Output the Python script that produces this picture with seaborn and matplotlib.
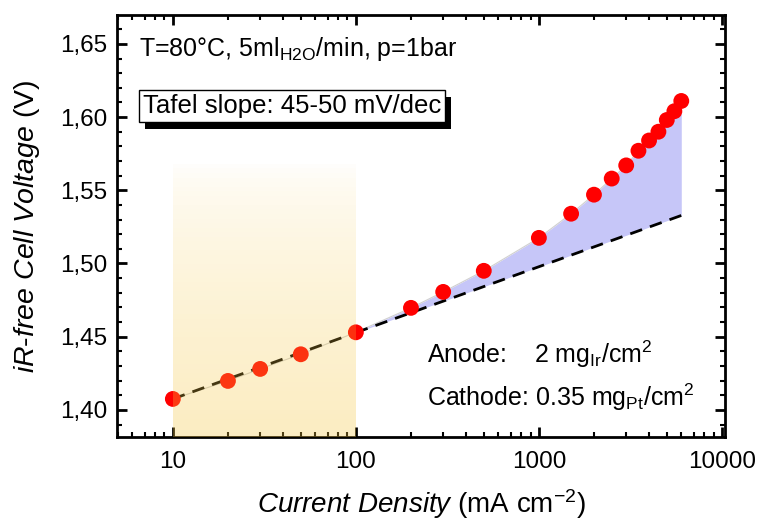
import numpy as np
import pandas as pd
import matplotlib
matplotlib.use("Agg")
import matplotlib.pyplot as plt
import matplotlib.transforms as mtransforms
from matplotlib.patches import Rectangle
from matplotlib.ticker import FixedLocator, MultipleLocator, FuncFormatter, LogLocator, NullFormatter
import seaborn as sns

# ---- data ----
current = [10, 20, 30, 50, 100, 200, 300, 500, 1000, 1500, 2000, 2500, 3000,
           3500, 4000, 4500, 5000, 5500, 6000]
voltage = [1.4075, 1.4198, 1.428, 1.438, 1.453, 1.4697, 1.4806, 1.495, 1.5175,
           1.534, 1.547, 1.558, 1.567, 1.577, 1.584, 1.590, 1.598, 1.604, 1.611]
tafel_x = [10, 100, 6000]
tafel_y = [1.4075, 1.4528, 1.5328]
xticks = [10, 100, 1000, 10000]
yticks = [1.40, 1.45, 1.50, 1.55, 1.60, 1.65]

sns.set_style("ticks")
plt.rcParams['font.family'] = ['Liberation Sans', 'DejaVu Sans']
plt.rcParams['mathtext.fontset'] = 'custom'
plt.rcParams['mathtext.rm'] = 'Liberation Sans'
plt.rcParams['mathtext.it'] = 'Liberation Sans:italic'
for k in ['text.color', 'axes.labelcolor', 'xtick.color', 'ytick.color', 'axes.edgecolor']:
    plt.rcParams[k] = 'black'

fig = plt.figure(figsize=(7.61, 5.25), dpi=100)
ax = fig.add_axes([0.1537, 0.1676, 0.799, 0.8038])
ax.set_xscale('log')
ax.set_xlim(4.95, 10400)
ax.set_ylim(1.3815, 1.6697)

df = pd.DataFrame({'current': current, 'voltage': voltage})

# blue shaded region between measured curve and Tafel extrapolation
mask = df['current'] >= 100
xs = df['current'][mask].values
ys = df['voltage'][mask].values
tl = np.interp(np.log10(xs), np.log10(tafel_x), tafel_y)
ax.fill_between(xs, tl, ys, color='#c6c6f8', lw=0, zorder=1)

# thin connecting line
ax.plot(current, voltage, color='#d0d0d0', lw=0.8, zorder=2)

# Tafel lines
ax.plot(tafel_x[:2], tafel_y[:2], color='black', lw=2.0, dashes=(4.5, 3), zorder=4)
ax.plot(tafel_x[1:], tafel_y[1:], color='black', lw=2.0, dashes=(4.5, 3), zorder=4)

sns.scatterplot(data=df, x='current', y='voltage', color='#ff0000', s=130,
                edgecolor='none', linewidth=0, zorder=5, ax=ax, legend=False)

# yellow gradient overlay (on top, semi transparent)
ytop = 1.568
ybot = 1.3815
n = 60
edges = np.linspace(ybot, ytop, n + 1)
for i in range(n):
    frac = 1 - (i + 0.5) / n  # 1 at bottom, 0 at top
    a = 0.32 * (frac ** 0.6)
    ax.fill_between([10, 100], edges[i], edges[i + 1], color='#f5c640', alpha=a,
                    lw=0, zorder=10)

# axes styling
for s in ax.spines.values():
    s.set_linewidth(2.0)
    s.set_color('black')
ax.xaxis.set_major_locator(FixedLocator(xticks))
ax.xaxis.set_major_formatter(FuncFormatter(lambda v, p: f"{int(v)}"))
ax.xaxis.set_minor_locator(LogLocator(base=10, subs=np.arange(2, 10), numticks=20))
ax.xaxis.set_minor_formatter(NullFormatter())
ax.yaxis.set_major_locator(FixedLocator(yticks))
ax.yaxis.set_minor_locator(MultipleLocator(0.01))
ax.yaxis.set_major_formatter(FuncFormatter(lambda v, p: f"{v:.2f}".replace('.', ',')))
ax.tick_params(which='major', direction='in', length=7, width=2, top=True, right=True,
               labelsize=17.5, colors='black')
ax.tick_params(axis='y', which='major', pad=7)
ax.tick_params(axis='x', which='major', pad=10)
ax.tick_params(which='minor', direction='in', length=3.5, width=1.5, top=True, right=True,
               colors='black')

ax.set_xlabel(r'$\mathit{Current\ Density}$ (mA cm$^{-2}$)', fontsize=20, labelpad=10)
ax.set_ylabel(r'$\mathit{iR}$-$\mathit{free\ Cell\ Voltage}$ (V)', fontsize=20.5, labelpad=13)

# annotations
ax.text(0.037, 0.92, r'T=80°C, 5ml$_{\mathrm{H2O}}$/min, p=1bar', transform=ax.transAxes,
        fontsize=18, ha='left', va='center', zorder=20)

bx, by = 0.043, 0.785
tafel_txt = ax.text(bx, by, 'Tafel slope: 45-50 mV/dec', transform=ax.transAxes, fontsize=18.5,
                    ha='left', va='center', color='black', zorder=20,
                    bbox=dict(boxstyle='square,pad=0.15', fc='white', ec='black', lw=1))

ax.text(0.51, 0.195, r'Anode:    2 mg$_{\mathrm{Ir}}$/cm$^{2}$', transform=ax.transAxes,
        fontsize=18, ha='left', va='center', zorder=20)
ax.text(0.51, 0.095, r'Cathode: 0.35 mg$_{\mathrm{Pt}}$/cm$^{2}$', transform=ax.transAxes,
        fontsize=18, ha='left', va='center', zorder=20)

# drop shadow for the Tafel box
fig.canvas.draw()
bb = tafel_txt.get_bbox_patch().get_window_extent()
inv = ax.transAxes.inverted()
(x0, y0) = inv.transform((bb.x0 + 6, bb.y0 - 7))
(x1, y1) = inv.transform((bb.x1 + 6, bb.y1 - 7))
ax.add_patch(Rectangle((x0, y0), x1 - x0, y1 - y0, transform=ax.transAxes,
                       fc='black', ec='black', lw=0, zorder=19))

fig.savefig('out.png', dpi=100)
